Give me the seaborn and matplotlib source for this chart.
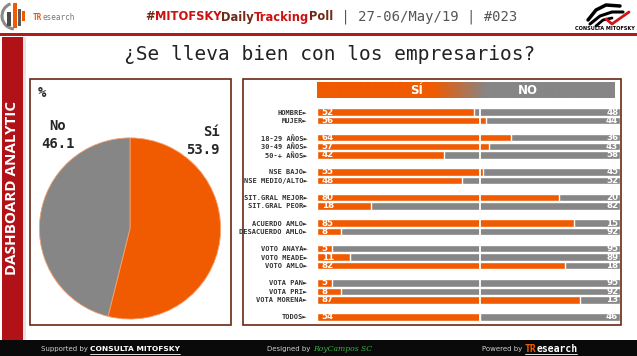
import numpy as np
import pandas as pd
import seaborn as sns
import matplotlib
matplotlib.use("Agg")
from matplotlib import pyplot as plt
from matplotlib import font_manager
from matplotlib.colors import to_rgb
from matplotlib.patches import Rectangle, Arc

# --- data ---
pie_labels = ["Sí", "No"]
pie_values = [53.9, 46.1]

categorias = ["HOMBRE", "MUJER",
              "18-29 AÑOS", "30-49 AÑOS", "50-+ AÑOS",
              "NSE BAJO", "NSE MEDIO/ALTO",
              "SIT.GRAL MEJOR", "SIT.GRAL PEOR",
              "ACUERDO AMLO", "DESACUERDO AMLO",
              "VOTO ANAYA", "VOTO MEADE", "VOTO AMLO",
              "VOTA PAN", "VOTA PRI", "VOTA MORENA",
              "TODOS"]
si = [52, 56, 64, 57, 42, 55, 48, 80, 18, 85, 8, 5, 11, 82, 5, 8, 87, 54]
no = [48, 44, 36, 43, 58, 45, 52, 20, 82, 15, 92, 95, 89, 18, 95, 92, 13, 46]
bloques = [2, 3, 2, 2, 2, 3, 3, 1]

ORANGE = "#f05a00"
GRAY = "#868686"
DARKRED = "#b01217"
BORDER = "#6b2812"
W, H = 637, 356

names = {f.name for f in font_manager.fontManager.ttflist}
NARROW = "Liberation Sans Narrow" if "Liberation Sans Narrow" in names else "DejaVu Sans"
MONO = ["DejaVu Sans Mono", "DejaVu Sans"]

sns.set_theme(style="white")
plt.rcParams["font.family"] = ["DejaVu Sans"]


def fr(x0, y0, x1, y1):
    # pixel box (top-left origin) -> figure fraction rect
    return [x0 / W, 1 - y1 / H, (x1 - x0) / W, (y1 - y0) / H]


def chain(ax, x, y, pieces, **kw):
    out = []
    prev = None
    for txt, style in pieces:
        opts = dict(kw)
        opts.update(style)
        if prev is None:
            prev = ax.text(x, y, txt, ha="left", va="center", **opts)
        else:
            prev = ax.annotate(txt, xy=(1, 0.5), xycoords=prev, ha="left", va="center", **opts)
        out.append(prev)
    return out


def underline(ax, texts, y, color="white"):
    # draw a thin line under a run of texts, using their rendered extent
    fig.canvas.draw()
    inv = ax.transData.inverted()
    x0 = inv.transform(texts[0].get_window_extent().p0)[0]
    x1 = inv.transform(texts[-1].get_window_extent().p1)[0]
    ax.plot([x0, x1], [y, y], color=color, lw=0.6)


fig = plt.figure(figsize=(W / 100, H / 100), dpi=100)
fig.patch.set_facecolor("white")

# background layer in pixel coordinates
bg = fig.add_axes([0, 0, 1, 1], zorder=0)
bg.axis("off")
bg.set_xlim(0, W)
bg.set_ylim(H, 0)

bg.add_patch(Rectangle((0, 33), W, 2.5, color="#b51a1a", lw=0))
bg.add_patch(Rectangle((2, 37), 20.5, 303, color=DARKRED, lw=0))
bg.add_patch(Rectangle((22.5, 37), 3, 303, color="#e4e4e4", lw=0))
bg.add_patch(Rectangle((0, 340), W, 16, color="#0a0a0a", lw=0))
bg.add_patch(Rectangle((30, 79), 201, 246, fill=False, ec=BORDER, lw=1.2))
bg.add_patch(Rectangle((243, 79), 378, 246, fill=False, ec=BORDER, lw=1.2))

# header gradient bar
xs = np.linspace(0, 1, 300)
t = np.clip((xs * 298 + 317 - 433) / 54, 0, 1)
c0, c1 = np.array(to_rgb(ORANGE)), np.array(to_rgb(GRAY))
grad = (c0[None, :] * (1 - t[:, None]) + c1[None, :] * t[:, None])[None, :, :]
bg.imshow(grad, extent=(317, 615, 98.5, 83), aspect="auto", interpolation="bilinear")
bg.text(417, 91, "SÍ", color="white", ha="center", va="center", fontsize=8.5, weight="bold")
bg.text(528, 91, "NO", color="white", ha="center", va="center", fontsize=8.5, weight="bold")

# left logo
bg.add_patch(Arc((15, 16), 26, 26, theta1=95, theta2=250, color="#8a8a8a", lw=2.2))
bg.add_patch(Rectangle((7, 12), 3.5, 14, color="#4a4a4a", lw=0))
bg.add_patch(Rectangle((12.5, 3), 4.5, 25, color=ORANGE, lw=0))
bg.add_patch(Rectangle((18, 9), 3, 17, color="#5a5a5a", lw=0))
bg.add_patch(Rectangle((22, 11), 2.5, 10, color=ORANGE, lw=0))
chain(bg, 33, 17, [("TR", dict(color=ORANGE, weight="bold")),
                   ("esearch", dict(color="#777777"))], fontsize=5.5, family=MONO)

# right logo
bg.plot([588, 596, 606, 620], [20, 10, 5, 6], color="black", lw=2.5, solid_capstyle="round")
bg.plot([590, 600, 612, 623], [24, 16, 12, 12], color="black", lw=2.2, solid_capstyle="round")
bg.plot([596, 603, 612], [26, 20, 18], color="black", lw=2)
bg.plot([606, 612, 629], [19, 24, 12], color="#d41414", lw=2)
bg.text(605, 28.5, "CONSULTA MITOFSKY", fontsize=3.6, weight="bold", color="black",
        ha="center", va="center", family=NARROW)

# header title
head = chain(bg, 145, 17, [("#", dict(color="#6e2a14")), ("MITOFSKY", dict(color="#cc1111")),
                           ("Daily", dict(color="#6e2a14")), ("Tracking", dict(color="#cc1111")),
                           ("Poll", dict(color="#6e2a14"))],
             fontsize=8.3, weight="bold", family=NARROW)
bg.annotate(" | 27-06/May/19 | #023", xy=(1, 0.5), xycoords=head[-1], ha="left", va="center",
            color="#555555", fontsize=10, family=MONO)

bg.text(12, 188, "DASHBOARD ANALYTIC", rotation=90, color="white", ha="center", va="center",
        fontsize=11, weight="bold", family=["Open Sans", "DejaVu Sans"])
bg.text(330, 54, "¿Se lleva bien con los empresarios?", color="#222222", ha="center",
        va="center", fontsize=14, family=MONO)

# footer
f1 = chain(bg, 41, 349, [("Supported by ", dict(color="#d0d0d0", fontsize=5)),
                         ("CONSULTA MITOFSKY", dict(color="white", weight="bold", fontsize=5.4))],
           family=NARROW)
chain(bg, 267, 349, [("Designed by ", dict(color="#d0d0d0", fontsize=5, family=NARROW)),
                     ("RoyCampos SC", dict(color="#3cb043", fontsize=5.5, style="italic",
                                           family="DejaVu Serif"))])
f3 = chain(bg, 482, 349, [("Powered by ", dict(color="#d0d0d0", fontsize=5, family=NARROW)),
                          ("TR", dict(color=ORANGE, weight="bold", fontsize=7, family=MONO)),
                          ("esearch", dict(color="white", weight="bold", fontsize=7, family=MONO))])

# --- pie ---
ax_pie = fig.add_axes(fr(38, 137, 222, 320), zorder=1)
ax_pie.pie(pie_values, colors=[ORANGE, GRAY], startangle=90, counterclock=False,
           wedgeprops=dict(linewidth=0.6, edgecolor="#f5a070"))
ax_pie.set_xlim(-1.01, 1.01)
ax_pie.set_ylim(-1.01, 1.01)
ax_pie.set_aspect("equal")
bg.text(42, 93, "%", fontsize=10, weight="bold", family=MONO, va="center", ha="center")
bg.text(58, 135, f"{pie_labels[1]}\n{pie_values[1]:.1f}", fontsize=10, weight="bold",
        family=MONO, ha="center", va="center", linespacing=1.3)
bg.text(220, 141, f"{pie_labels[0]}\n{pie_values[0]:.1f}", fontsize=10, weight="bold",
        family=MONO, ha="right", va="center", linespacing=1.3)

# --- bars ---
df = pd.DataFrame({"grupo": categorias, "si": si, "no": no})
df["total"] = df["si"] + df["no"]

order = []
k = 0
for n, b in enumerate(bloques):
    order += categorias[k:k + b]
    k += b
    if n < len(bloques) - 1:
        order.append(" " * (n + 1))

ax_bar = fig.add_axes(fr(317, 98.5, 619.5, 322), zorder=1)
ax_bar.patch.set_alpha(0)
sns.barplot(data=df, x="total", y="grupo", order=order, orient="h", color=GRAY,
            saturation=1, width=0.88, errorbar=None, ax=ax_bar)
sns.barplot(data=df, x="si", y="grupo", order=order, orient="h", color=ORANGE,
            saturation=1, width=0.88, errorbar=None, ax=ax_bar)
ax_bar.axvline(df["si"].iloc[-1], color="white", lw=1.3)

pos = [order.index(c) for c in categorias]
for p, s, n in zip(pos, si, no):
    ax_bar.text(1.5, p, f"{s}", color="white", fontsize=6.3, weight="bold", ha="left", va="center")
    ax_bar.text(99.6, p, f"{n}", color="white", fontsize=6.3, weight="bold", ha="right", va="center")

ax_bar.set_yticks(pos)
ax_bar.set_yticklabels([c + "►" for c in categorias], fontsize=5, family=MONO,
                       color="#333333", weight="bold")
ax_bar.tick_params(axis="y", length=0, pad=7)
ax_bar.set_xlim(0, 100)
ax_bar.set_ylim(24.6, -1.6)
ax_bar.set_xticks([])
ax_bar.set_xlabel("")
ax_bar.set_ylabel("")
sns.despine(ax=ax_bar, left=True, bottom=True)

underline(bg, f1[1:], 354)
underline(bg, f3[1:], 354)

fig.savefig("out.png", dpi=100)
